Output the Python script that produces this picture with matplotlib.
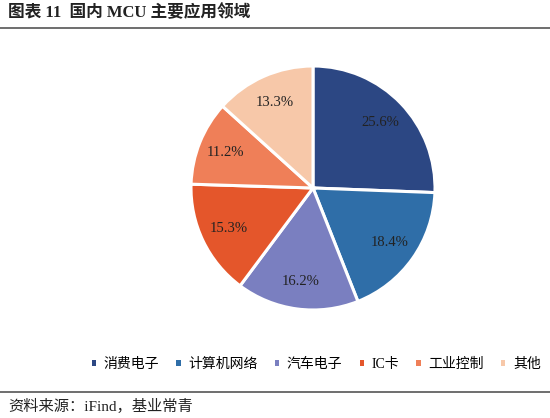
import matplotlib
matplotlib.use("Agg")
import numpy as np
import matplotlib.pyplot as plt
from matplotlib.patches import Patch

# 国内 MCU 主要应用领域
categories = ['消费电子', '计算机网络', '汽车电子', 'IC卡', '工业控制', '其他']
shares = [25.6, 18.4, 16.2, 15.3, 11.2, 13.3]
colors = ['#2C4783', '#2F6EA8', '#7A7FC0', '#E4562B', '#EF7F58', '#F7C8A9']

fonts = ['Liberation Serif', 'Noto Sans CJK SC']
plt.rcParams['font.family'] = fonts

fig = plt.figure(figsize=(5.5, 4.18), dpi=100)

R = 122
ax = fig.add_axes([(313 - R) / 550, 1 - (188 + R) / 418, 2 * R / 550, 2 * R / 418])
wedges, texts = ax.pie(shares, colors=colors, startangle=90, counterclock=False,
                       wedgeprops=dict(edgecolor='white', linewidth=2.2))
ax.set_aspect('equal')
ax.set_xlim(-1, 1)
ax.set_ylim(-1, 1)

# 数据标签
ang = 90
for w, v in zip(wedges, shares):
    mid = ang - v / 100 * 360 / 2
    ang -= v / 100 * 360
    r = 0.77
    ax.text(r * np.cos(np.radians(mid)), r * np.sin(np.radians(mid)), f'{v:.1f}%',
            ha='center', va='center', fontsize=10.5, color='#222222')

# 标题和分隔线
fig.text(0.015, 1 - 13 / 418, '图表 11  国内 MCU 主要应用领域', fontsize=12,
         fontweight='bold', ha='left', va='center', color='#222222')
fig.add_artist(plt.Line2D([0, 1], [1 - 28 / 418, 1 - 28 / 418], color='#555555', lw=1.2))
fig.add_artist(plt.Line2D([0, 1], [1 - 392 / 418, 1 - 392 / 418], color='#555555', lw=1.2))
fig.text(0.015, 1 - 406 / 418, '资料来源：iFind，基业常青', fontsize=11,
         ha='left', va='center', color='#222222')

handles = [Patch(facecolor=c, edgecolor='none') for c in colors]
fig.legend(handles, categories, loc='center', bbox_to_anchor=(0.575, 1 - 364 / 418),
           ncol=6, frameon=False, fontsize=10, handlelength=0.3, handleheight=0.3,
           handletextpad=0.55, columnspacing=1.25, borderaxespad=0)

fig.savefig('out.png', dpi=100, facecolor='white')
